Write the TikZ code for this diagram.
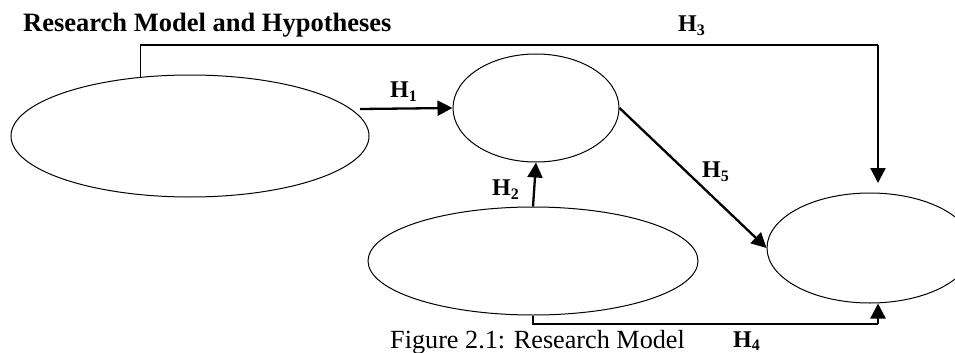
\documentclass[tikz,border=0pt]{standalone}
\usepackage{fontspec}
\setmainfont{Liberation Serif}
\usetikzlibrary{arrows.meta,shapes.geometric}
\begin{document}
\begin{tikzpicture}[x=1pt,y=-1pt,
  construct/.style={draw,ellipse,line width=1pt,inner sep=0pt},
  thinline/.style={line width=1.2pt},
  arrline/.style={line width=2.3pt,-{Triangle[length=15pt,width=15pt]}},
  hlabel/.style={anchor=base west,inner sep=0pt,font=\fontsize{24}{26}\selectfont\bfseries},
]
\useasboundingbox (0,0) rectangle (955,353);
\clip (0,0) rectangle (955,353);
% title
\node[anchor=base west,inner sep=0pt,font=\fontsize{26.5}{30}\selectfont\bfseries] (title) at (23,32) {Research Model and Hypotheses};
% constructs
\node[construct,minimum width=358pt,minimum height=122pt] (A) at (190,136) {};
\node[construct,minimum width=166pt,minimum height=108pt] (B) at (536,108) {};
\node[construct,minimum width=330pt,minimum height=108pt] (C) at (533,261) {};
\node[construct,minimum width=206pt,minimum height=110pt] (D) at (870,248) {};
% connector points
\coordinate (h1s) at (360,109);
\coordinate (h3c) at (878,45);
\coordinate (h3e) at (878,183);
\coordinate (h4c) at (878,324);
% H1
\draw[arrline] (h1s) -- (B.west);
% H2
\draw[arrline] (C.north) -- (B.south);
% H3
\draw[thinline] (A.130.5) |- (h3c);
\draw[arrline] (h3c) -- (h3e);
% H4
\draw[thinline] (C.south) |- (h4c);
\draw[arrline] (h4c) -- (h4c |- D.south);
% H5
\draw[arrline] (B.east) -- (D.west);
% labels
\newcommand{\hyp}[1]{H\raisebox{-4pt}{\fontsize{16}{16}\selectfont #1}}
\node[hlabel] (l1) at (390,97) {\hyp{1}};
\node[hlabel] (l2) at (492,195) {\hyp{2}};
\node[hlabel] (l3) at (678,32) {\hyp{3}};
\node[hlabel] (l4) at (733,347) {H\raisebox{-3pt}{\fontsize{16}{16}\selectfont 4}};
\node[hlabel] (l5) at (702,177) {\hyp{5}};
% caption
\node[anchor=base west,inner sep=0pt,font=\fontsize{26.2}{30}\selectfont] (cap) at (390,348) {Figure 2.1: Research Model};
\end{tikzpicture}
\end{document}
